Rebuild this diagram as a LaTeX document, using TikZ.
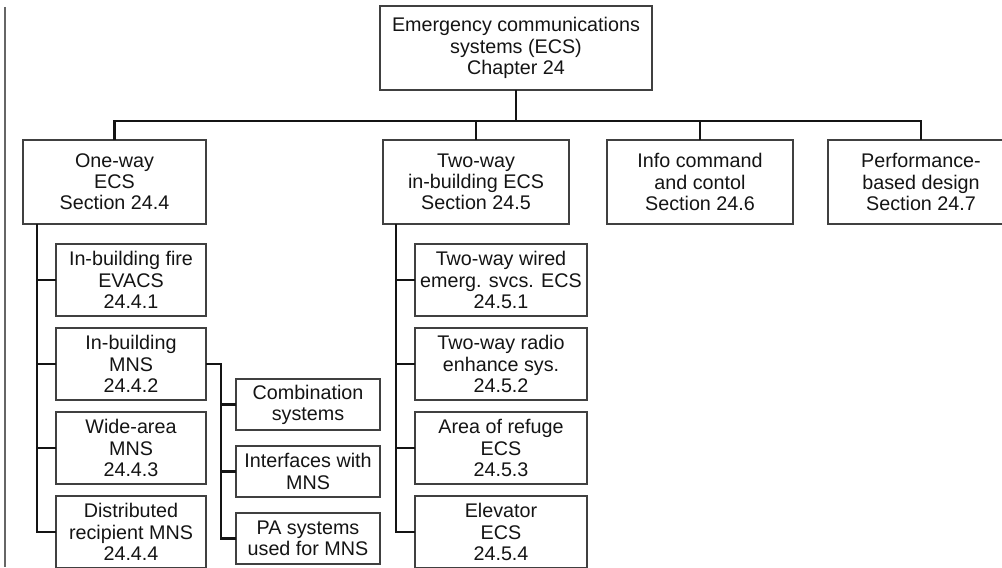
\documentclass[tikz,border=0pt]{standalone}
\usepackage{fontspec}
\setmainfont{Liberation Sans}
\usepackage{tikz}
\usetikzlibrary{positioning}
\newcommand{\lf}{\fontsize{14.8}{15.9}\selectfont}

\begin{document}
\begin{tikzpicture}[x=0.75pt, y=-0.75pt, every node/.style={inner sep=0pt, outer sep=0pt, font=\lf, align=center, text=black!92},
  card/.style={draw=black!75, line width=0.95pt},
  conn/.style={black!92, line width=2.1pt}]
\useasboundingbox (0,0) rectangle (1002,567);
% ---- page rule at the left
\draw[black!60, line width=0.8pt] (5,7) -- (5,567);
% ---- chapter
\node[card, minimum width=204pt, minimum height=63pt] (top) at (516,48)
  {Emergency communications\\systems (ECS)\\Chapter 24};
% ---- sections
\node[card, minimum width=137.25pt, minimum height=63pt] (one) at (114.5,182) {One-way\\ECS\\Section 24.4};
\node[card, minimum width=139.5pt, minimum height=63pt] (two) at (476,182) {Two-way\\in-building ECS\\Section 24.5};
\node[card, minimum width=139.5pt, minimum height=63pt] (info) at (700,182) {Info command\\and contol\\Section 24.6};
\node[card, minimum width=139.5pt, minimum height=63pt] (perf) at (921,182) {Performance-\\based design\\Section 24.7};
% ---- one-way subsections
\node[card, minimum width=112.5pt, minimum height=54pt, anchor=north] (o1) at (131,244) {In-building fire\\EVACS\\24.4.1};
\node[card, minimum width=112.5pt, minimum height=54pt, below=9pt of o1] (o2) {In-building\\MNS\\24.4.2};
\node[card, minimum width=112.5pt, minimum height=54pt, below=9pt of o2] (o3) {Wide-area\\MNS\\24.4.3};
\node[card, minimum width=112.5pt, minimum height=54pt, below=9pt of o3] (o4) {Distributed\\recipient MNS\\24.4.4};
% ---- MNS topics
\node[card, minimum width=108pt, minimum height=38.25pt, anchor=north] (c1) at (308,379) {Combination\\systems};
\node[card, minimum width=108pt, minimum height=38.25pt, below=12pt of c1] (c2) {Interfaces with\\MNS};
\node[card, minimum width=108pt, minimum height=38.25pt, below=12pt of c2] (c3) {PA systems\\used for MNS};
% ---- two-way subsections
\node[card, minimum width=129pt, minimum height=54pt, anchor=north] (t1) at (501,244) {Two-way wired\\emerg. svcs. ECS\\24.5.1};
\node[card, minimum width=129pt, minimum height=54pt, below=9pt of t1] (t2) {Two-way radio\\enhance sys.\\24.5.2};
\node[card, minimum width=129pt, minimum height=54pt, below=9pt of t2] (t3) {Area of refuge\\ECS\\24.5.3};
\node[card, minimum width=129pt, minimum height=54pt, below=9pt of t3] (t4) {Elevator\\ECS\\24.5.4};
% ---- connectors
\coordinate (bus) at (516,121);
\draw[conn] (top.south) -- (bus);
\draw[conn] (one.north) |- (bus) -| (perf.north);
\draw[conn] (two.north) -- (two.north |- bus);
\draw[conn] (info.north) -- (info.north |- bus);
\draw[conn] (one.south west) ++(14,0) |- (o4.west);
\foreach \n in {o1,o2,o3} \draw[conn] (\n.west) -- ++(-19,0);
\draw[conn] (o2.east) -- ++(15,0) |- (c3.west);
\foreach \n in {c1,c2} \draw[conn] (\n.west) -- ++(-15,0);
\draw[conn] (two.south west) ++(13,0) |- (t4.west);
\foreach \n in {t1,t2,t3} \draw[conn] (\n.west) -- ++(-19,0);
\end{tikzpicture}
\end{document}
